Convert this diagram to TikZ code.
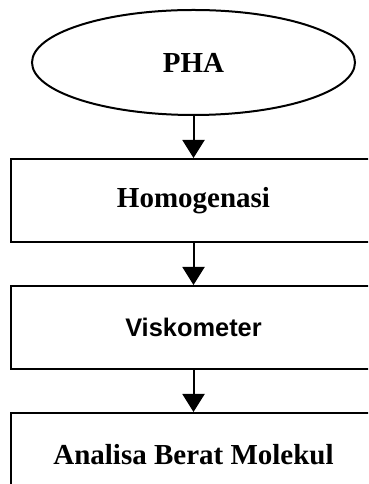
\documentclass[tikz,border=0pt]{standalone}
\usepackage{fontspec}
\setmainfont{Liberation Serif}
\setsansfont{Liberation Sans}
\usetikzlibrary{arrows.meta, positioning, shapes.geometric}

\begin{document}
\begin{tikzpicture}[
  x=1pt, y=1pt,
  font=\fontsize{29}{34}\selectfont\bfseries,
  >={Triangle[length=18pt, width=22pt]},
  node distance=42pt,
  line width=2pt,
  startnode/.style={draw, ellipse, minimum width=323pt, minimum height=105pt,
                    inner sep=0pt},
  stepbox/.style={draw, rectangle, minimum width=366pt, minimum height=83pt,
                  inner sep=0pt},
  sanslabel/.style={font=\fontsize{25.4}{30}\selectfont\sffamily\bfseries},
  arr/.style={->},
  ]
\path[use as bounding box, clip] (0,0) rectangle (368,484);
% ---- start
\node[startnode] (pha) at (193.5,421.5) {PHA};
% ---- steps
\node[stepbox, below=of pha]   (homo)  {Homogenasi};
\node[stepbox, sanslabel, below=of homo] (visko) {Viskometer};
\node[stepbox, below=of visko] (abm)   {Analisa Berat Molekul};
% arrows
\draw[arr] (pha) -- (homo);
\draw[arr] (homo) -- (visko);
\draw[arr] (visko) -- (abm);
\end{tikzpicture}
\end{document}
